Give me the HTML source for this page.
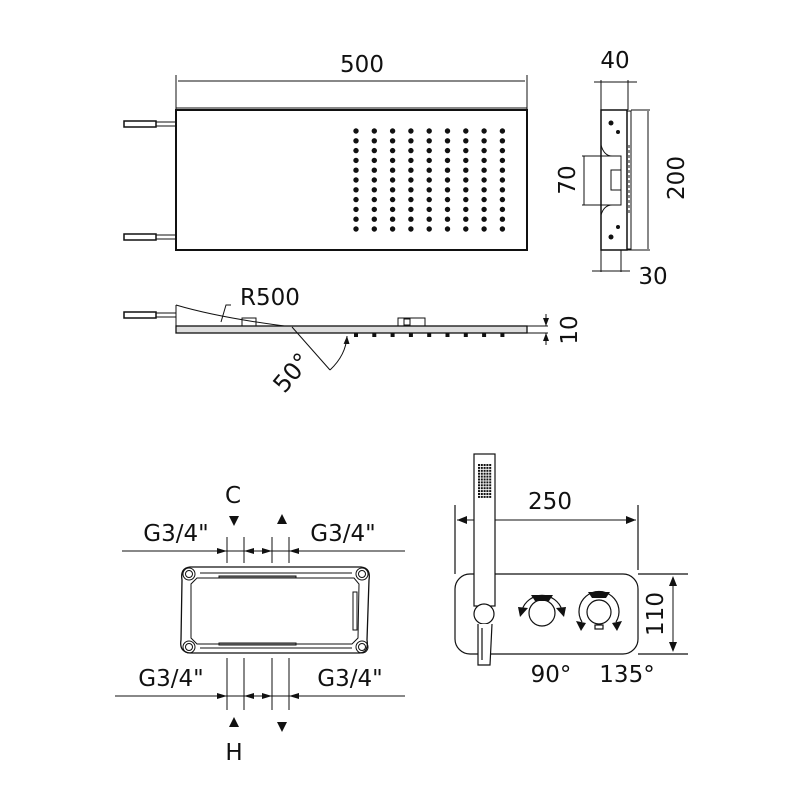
<!DOCTYPE html>
<html><head><meta charset="utf-8"><style>
html,body{margin:0;padding:0;background:#fff;}
svg{display:block;}
text{font-family:"DejaVu Sans","Liberation Sans",sans-serif;fill:#111;}
</style></head><body>
<svg width="800" height="800" viewBox="0 0 800 800" xmlns="http://www.w3.org/2000/svg">
<defs>
<marker id="s" markerWidth="8" markerHeight="6" refX="8" refY="3" orient="auto" markerUnits="userSpaceOnUse"><path d="M0,0 L8,3 L0,6 Z" fill="#111"/></marker>
</defs>
<g stroke="#111" fill="none" stroke-width="1">
<line x1="176" y1="75" x2="176" y2="110"/><line x1="527" y1="75" x2="527" y2="110"/>
<line x1="178" y1="81" x2="525" y2="81"/>
<rect x="176" y="110" width="351" height="140" stroke-width="2"/>
<line x1="176" y1="108" x2="527" y2="108"/>
<rect x="124" y="121" width="32" height="6" stroke-width="1.5"/><line x1="156" y1="122" x2="176" y2="122"/><line x1="156" y1="126" x2="176" y2="126"/>
<rect x="124" y="234" width="32" height="6" stroke-width="1.5"/><line x1="156" y1="235" x2="176" y2="235"/><line x1="156" y1="239" x2="176" y2="239"/>
</g>
<g fill="#111" id="dots"></g>
<text x="362" y="72" font-size="23" text-anchor="middle">500</text>

<g stroke="#111" fill="none" stroke-width="1">
<line x1="594" y1="82" x2="637" y2="82"/>
<line x1="601" y1="80" x2="601" y2="110"/><line x1="628" y1="80" x2="628" y2="110"/>
<rect x="601" y="110" width="26" height="140" stroke-width="1.5"/>
<rect x="627" y="111" width="4" height="138"/>
<line x1="631" y1="110" x2="650" y2="110"/><line x1="627" y1="250" x2="650" y2="250"/>
<line x1="648" y1="111" x2="648" y2="249"/>
<path d="M601 145 Q604 156 612 156"/><path d="M601 215 Q604 205 612 205"/>
<rect x="601" y="156" width="20" height="49"/>
<line x1="582" y1="156" x2="601" y2="156"/><line x1="582" y1="205" x2="601" y2="205"/>
<line x1="584" y1="156" x2="584" y2="205"/>
<rect x="611" y="170" width="10" height="20"/>
<line x1="601" y1="250" x2="601" y2="272"/><line x1="621" y1="250" x2="621" y2="272"/>
<line x1="592" y1="271" x2="630" y2="271"/>
<line x1="629" y1="145" x2="629" y2="215" stroke-dasharray="3,2"/>
</g>
<g fill="#111"><circle cx="611" cy="123" r="2.5"/><circle cx="618" cy="132" r="2"/><circle cx="618" cy="227" r="2"/><circle cx="611" cy="237" r="2.5"/></g>
<text x="615" y="68" font-size="23" text-anchor="middle">40</text>
<text x="653" y="284" font-size="23" text-anchor="middle">30</text>
<text font-size="23" text-anchor="middle" transform="translate(684,178) rotate(-90)">200</text>
<text font-size="23" text-anchor="middle" transform="translate(575,180) rotate(-90)">70</text>

<g stroke="#111" fill="none" stroke-width="1">
<rect x="124" y="312" width="32" height="6" stroke-width="1.5"/><line x1="156" y1="313" x2="176" y2="313"/><line x1="156" y1="317" x2="176" y2="317"/>
<path d="M176 305 Q220 318 292 327"/>
<line x1="176" y1="305" x2="176" y2="333"/>
<rect x="176" y="326" width="351" height="7" fill="#ddd" stroke-width="1.3"/>
<rect x="242" y="318" width="14" height="8"/>
<rect x="398" y="318" width="27" height="8"/><rect x="404" y="319" width="6" height="6"/>
<line x1="292" y1="327" x2="330" y2="370"/>
<path d="M330 370 Q346 355 347 336" marker-end="url(#s)"/>
<path d="M231 305 L226 305 L221 322"/>
<line x1="527" y1="326" x2="548" y2="326"/><line x1="527" y1="333" x2="548" y2="333"/>
<line x1="546" y1="314" x2="546" y2="326" marker-end="url(#s)"/><line x1="546" y1="345" x2="546" y2="333" marker-end="url(#s)"/>
</g>
<g fill="#111" id="drops"></g>
<text x="240" y="305" font-size="23">R500</text>
<text font-size="24" text-anchor="middle" transform="translate(298,378) rotate(-50)">50°</text>
<text font-size="23" text-anchor="middle" transform="translate(577,330) rotate(-90)">10</text>

<g stroke="#111" fill="none" stroke-width="1">
<line x1="122" y1="551" x2="405" y2="551"/><line x1="115" y1="696" x2="405" y2="696"/>
<line x1="227" y1="537" x2="227" y2="563"/><line x1="244" y1="537" x2="244" y2="563"/><line x1="272" y1="537" x2="272" y2="563"/><line x1="289" y1="537" x2="289" y2="563"/>
<line x1="227" y1="658" x2="227" y2="710"/><line x1="244" y1="658" x2="244" y2="710"/><line x1="272" y1="658" x2="272" y2="710"/><line x1="289" y1="658" x2="289" y2="710"/>
<path d="M190 567 L361 567 Q371 568 369 580 L367 640 Q369 652 360 653 L190 653 Q179 652 181 640 L182 580 Q180 568 190 567Z" stroke-width="1.3"/>
<path d="M197 578 L354 578 L359 584 L358 638 L352 644 L197 644 L191 638 L191 584 Z"/>
<line x1="200" y1="573" x2="352" y2="573"/><line x1="200" y1="648" x2="352" y2="648"/>
<circle cx="189" cy="574" r="6"/><circle cx="189" cy="574" r="3.5"/>
<circle cx="362" cy="574" r="6"/><circle cx="362" cy="574" r="3.5"/>
<circle cx="189" cy="647" r="6"/><circle cx="189" cy="647" r="3.5"/>
<circle cx="362" cy="647" r="6"/><circle cx="362" cy="647" r="3.5"/>
<rect x="219" y="576" width="77" height="2" fill="#888"/><rect x="219" y="643" width="77" height="2" fill="#888"/>
<rect x="353" y="592" width="4" height="38"/>
</g>
<g fill="#111">
<path d="M217 548 L227 551 L217 554Z"/><path d="M254 548 L244 551 L254 554Z"/><path d="M262 548 L272 551 L262 554Z"/><path d="M299 548 L289 551 L299 554Z"/>
<path d="M217 693 L227 696 L217 699Z"/><path d="M254 693 L244 696 L254 699Z"/><path d="M262 693 L272 696 L262 699Z"/><path d="M299 693 L289 696 L299 699Z"/>
<path d="M229 516 L239 516 L234 526Z"/><path d="M277 524 L287 524 L282 514Z"/>
<path d="M229 727 L239 727 L234 717Z"/><path d="M277 722 L287 722 L282 732Z"/>
</g>
<text x="233" y="503" font-size="23" text-anchor="middle">C</text>
<text x="234" y="760" font-size="23" text-anchor="middle">H</text>
<text x="176" y="541" font-size="23" text-anchor="middle">G3/4"</text>
<text x="343" y="541" font-size="23" text-anchor="middle">G3/4"</text>
<text x="171" y="686" font-size="23" text-anchor="middle">G3/4"</text>
<text x="350" y="686" font-size="23" text-anchor="middle">G3/4"</text>

<g stroke="#111" fill="none" stroke-width="1.2">
<rect x="455" y="574" width="183" height="80" rx="15"/>
<line x1="455" y1="505" x2="455" y2="574"/><line x1="638" y1="505" x2="638" y2="570"/>
<line x1="457" y1="520" x2="636" y2="520" stroke-width="1"/>
<line x1="638" y1="574" x2="688" y2="574"/><line x1="638" y1="654" x2="688" y2="654"/>
<rect x="474" y="454" width="21" height="152" fill="#fff"/>
<circle cx="484" cy="614" r="10" fill="#fff"/>
<path d="M478 624 L478 665 L490 665 L492 624" fill="#fff"/>
<line x1="482" y1="628" x2="482" y2="660"/>
<circle cx="542" cy="613" r="13"/>
<circle cx="599" cy="612" r="12"/>
<path d="M522 610 A21 21 0 0 1 562 610"/>
<path d="M582 622 A20 20 0 1 1 616 622"/>
<rect x="595" y="625" width="8" height="4"/>
</g>
<g fill="#111">
<path d="M457 520 L467 516 L467 524Z"/><path d="M636 520 L626 516 L626 524Z"/>
<path d="M673 576 L669 586 L677 586Z"/><path d="M673 652 L669 642 L677 642Z"/>
<path d="M531 595 L553 595 L549 601 L535 601Z"/><path d="M518 607 L528 608 L520 617Z"/><path d="M556 608 L566 607 L564 617Z"/>
<path d="M588 592 L610 592 L606 598 L592 598Z"/><path d="M576 621 L586 623 L581 631Z"/><path d="M612 623 L622 621 L617 631Z"/>
</g>
<line x1="673" y1="580" x2="673" y2="648" stroke="#111"/>
<g id="grid" fill="#111"></g>
<text x="550" y="509" font-size="23" text-anchor="middle">250</text>
<text x="551" y="682" font-size="23" text-anchor="middle">90°</text>
<text x="627" y="682" font-size="23" text-anchor="middle">135°</text>
<text font-size="23" text-anchor="middle" transform="translate(663,614) rotate(-90)">110</text>
</svg>
<script>
var ns="http://www.w3.org/2000/svg",d=document.getElementById("dots");
for(var i=0;i<9;i++)for(var j=0;j<11;j++){var c=document.createElementNS(ns,"circle");c.setAttribute("cx",356+i*18.3);c.setAttribute("cy",131+j*9.8);c.setAttribute("r",2.7);d.appendChild(c);}
var p=document.getElementById("drops");
for(var i=0;i<9;i++){var c=document.createElementNS(ns,"rect");c.setAttribute("x",354+i*18.3);c.setAttribute("y",333);c.setAttribute("width",4);c.setAttribute("height",4);p.appendChild(c);}
var g=document.getElementById("grid");
for(var i=0;i<5;i++)for(var j=0;j<12;j++){var c=document.createElementNS(ns,"rect");c.setAttribute("x",478+i*2.8);c.setAttribute("y",464+j*2.9);c.setAttribute("width",2);c.setAttribute("height",2);g.appendChild(c);}
</script>
</body></html>
